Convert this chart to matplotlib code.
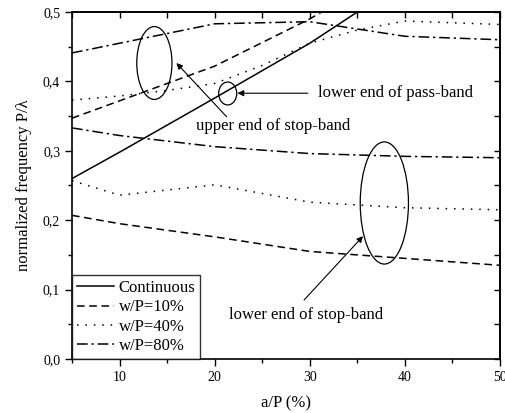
import matplotlib
matplotlib.use("Agg")
import matplotlib.pyplot as plt
from matplotlib.patches import Ellipse
from matplotlib.ticker import FuncFormatter, MultipleLocator

plt.rcParams['font.family'] = ['Liberation Serif', 'DejaVu Serif']
plt.rcParams['mathtext.fontset'] = 'stix'

# ---- data ----
x_cont = [5, 10, 20, 30, 35, 40]
y_cont = [0.260, 0.298, 0.376, 0.455, 0.500, 0.545]

x_std = [5, 10, 20, 30, 40, 50]
w10_upper_x = [5, 10, 20, 30, 35]
w10_upper = [0.347, 0.372, 0.422, 0.490, 0.530]
w10_lower = [0.207, 0.195, 0.176, 0.155, 0.145, 0.135]

w40_upper_x = [5, 10, 15, 20, 25, 30, 35, 40, 50]
w40_upper = [0.373, 0.379, 0.387, 0.397, 0.423, 0.455, 0.474, 0.487, 0.482]
w40_lower = [0.257, 0.236, 0.251, 0.226, 0.218, 0.215]

w80_upper = [0.441, 0.455, 0.483, 0.486, 0.465, 0.460]
w80_lower = [0.333, 0.322, 0.306, 0.296, 0.292, 0.290]

legend_labels = ["Continuous", "w/P=10%", "w/P=40%", "w/P=80%"]

fig = plt.figure(figsize=(5.05, 4.13), dpi=100)
ax = fig.add_axes([72/505, 1-359/413, (500-72)/505, (359-12)/413])

lw = 1.1
l1, = ax.plot(x_cont, y_cont, '-', color='black', lw=lw, label=legend_labels[0])
l2, = ax.plot(w10_upper_x, w10_upper, color='black', lw=lw, dashes=(5, 3), label=legend_labels[1])
ax.plot(x_std, w10_lower, color='black', lw=lw, dashes=(5, 3))
l3, = ax.plot(w40_upper_x, w40_upper, color='black', lw=lw, dashes=(1, 4.5), label=legend_labels[2])
ax.plot(x_std, w40_lower, color='black', lw=lw, dashes=(1, 4.5))
l4, = ax.plot(x_std, w80_upper, color='black', lw=lw, dashes=(7, 2.5, 1.5, 2.5), label=legend_labels[3])
ax.plot(x_std, w80_lower, color='black', lw=lw, dashes=(7, 2.5, 1.5, 2.5))

ax.set_xlim(5, 50)
ax.set_ylim(0, 0.5)

# ellipses
for (cx, cy, w, h) in [(13.66, 0.4265, 3.7, 0.105), (21.37, 0.3826, 1.9, 0.033), (37.84, 0.2248, 5.07, 0.176)]:
    ax.add_patch(Ellipse((cx, cy), w, h, fill=False, edgecolor='black', lw=0.9))

arrow = dict(arrowstyle='-|>', color='black', lw=0.8, mutation_scale=9, shrinkA=0, shrinkB=0)
ax.annotate('', xy=(22.4, 0.383), xytext=(29.8, 0.383), arrowprops=arrow)
ax.text(30.85, 0.383, 'lower end of pass-band', fontsize=12, va='center', ha='left')
ax.annotate('', xy=(15.98, 0.4265), xytext=(21.26, 0.349), arrowprops=arrow)
ax.text(18.0, 0.336, 'upper end of stop-band', fontsize=12, va='center', ha='left')
ax.annotate('', xy=(35.6, 0.177), xytext=(29.4, 0.085), arrowprops=arrow)
ax.text(21.47, 0.063, 'lower end of stop-band', fontsize=12, va='center', ha='left')

# ticks
fmt = FuncFormatter(lambda v, p: ('%.1f' % v).replace('.', ','))
ax.yaxis.set_major_locator(MultipleLocator(0.1))
ax.yaxis.set_minor_locator(MultipleLocator(0.05))
ax.yaxis.set_major_formatter(fmt)
ax.xaxis.set_major_locator(MultipleLocator(10))
ax.xaxis.set_minor_locator(MultipleLocator(5))
ax.tick_params(which='major', direction='out', length=5, width=1, labelsize=10, top=False, right=False)
ax.tick_params(which='minor', direction='out', length=3, width=1, top=False, right=False)
for s in ax.spines.values():
    s.set_linewidth(1.2)

sx = ax.secondary_xaxis('top')
sx.xaxis.set_major_locator(MultipleLocator(5))
sx.tick_params(direction='in', length=4, width=1, labeltop=False)
sy = ax.secondary_yaxis('right')
sy.yaxis.set_major_locator(MultipleLocator(0.05))
sy.tick_params(direction='in', length=4, width=1, labelright=False)
sx.spines['top'].set_linewidth(1.2)
sy.spines['right'].set_linewidth(1.2)

ax.set_xlabel('a/P (%)', fontsize=12, labelpad=8)
ax.set_ylabel('normalized frequency P/λ', fontsize=12, labelpad=8)

leg = ax.legend(handles=[l1, l2, l3, l4], loc='lower left', fontsize=12, frameon=True,
                fancybox=False, borderaxespad=0, handlelength=2.2, handletextpad=0.3,
                labelspacing=0.2, borderpad=0.3)
leg.get_frame().set_edgecolor('black')
leg.get_frame().set_linewidth(1.0)

fig.savefig('out.png', dpi=100)
